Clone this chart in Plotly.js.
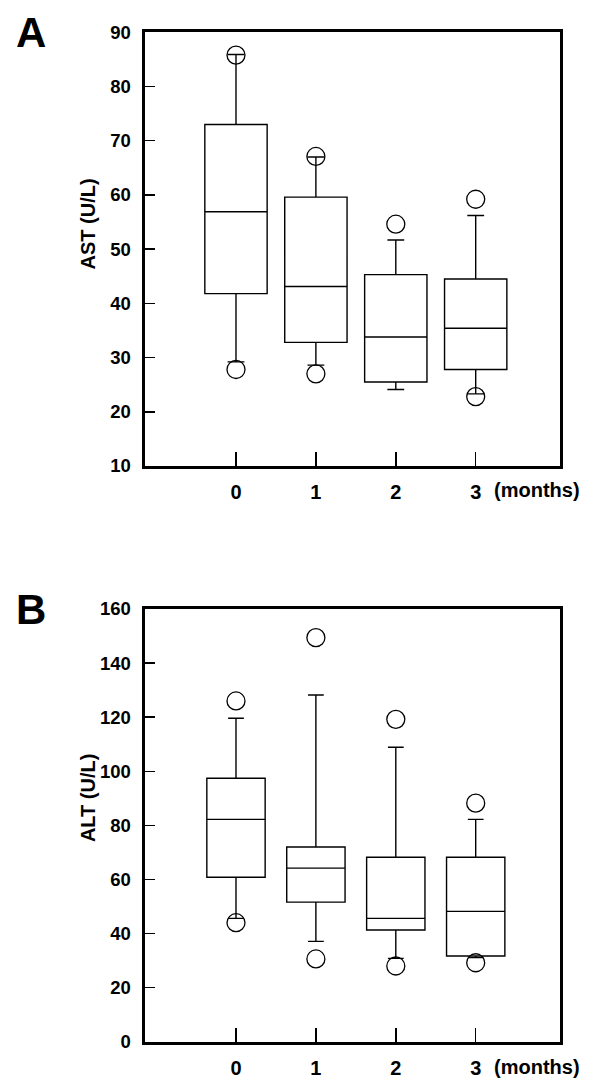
<!DOCTYPE html>
<html>
<head>
<meta charset="utf-8">
<script src="https://cdn.plot.ly/plotly-3.0.1.min.js"></script>
<style>html,body{margin:0;padding:0;background:#fff;}#chart{width:600px;height:1091px;}</style>
</head>
<body>
<div id="chart"></div>
<script>
// Categories (months)
const months = [0, 1, 2, 3];
const monthLabels = ['0', '1', '2', '3'];

// Panel A: AST (U/L)
const astQ1 = [41.8, 32.8, 25.5, 27.8];
const astMedian = [56.9, 43.1, 33.8, 35.4];
const astQ3 = [73.0, 59.6, 45.3, 44.5];
const astLowerWhisker = [29.2, 28.6, 24.1, 23.3];
const astUpperWhisker = [85.9, 67.0, 51.7, 56.2];
const astOutlierMonth = [0, 0, 1, 1, 2, 3, 3];
const astOutlierValue = [85.8, 27.8, 67.1, 27.0, 54.6, 59.2, 22.8];

// Panel B: ALT (U/L)
const altQ1 = [60.8, 51.6, 41.3, 31.7];
const altMedian = [82.2, 64.2, 45.6, 48.2];
const altQ3 = [97.4, 72.0, 68.2, 68.2];
const altLowerWhisker = [45.6, 37.1, 30.8, 31.1];
const altUpperWhisker = [119.6, 128.2, 108.9, 82.2];
const altOutlierMonth = [0, 0, 1, 1, 2, 2, 3, 3];
const altOutlierValue = [126.0, 44.0, 149.4, 30.6, 119.2, 28.0, 88.2, 29.2];

const FONT = 'Liberation Sans, Arial, Helvetica, sans-serif';

function boxTrace(q1, med, q3, lo, hi, xa, ya, w) {
  return {
    type: 'box', x: months, q1: q1, median: med, q3: q3,
    lowerfence: lo, upperfence: hi,
    xaxis: xa, yaxis: ya, width: w, whiskerwidth: 0.27,
    boxpoints: false, fillcolor: 'rgba(255,255,255,0)',
    line: {color: '#000', width: 1.4},
    hoverinfo: 'skip', showlegend: false
  };
}
function outlierTrace(xs, ys, xa, ya) {
  return {
    type: 'scatter', mode: 'markers', x: xs, y: ys, xaxis: xa, yaxis: ya,
    marker: {symbol: 'circle-open', size: 18, color: '#000', line: {width: 1.3, color: '#000'}},
    hoverinfo: 'skip', showlegend: false, cliponaxis: false
  };
}

const data = [
  boxTrace(astQ1, astMedian, astQ3, astLowerWhisker, astUpperWhisker, 'x', 'y', 0.78),
  outlierTrace(astOutlierMonth, astOutlierValue, 'x', 'y'),
  boxTrace(altQ1, altMedian, altQ3, altLowerWhisker, altUpperWhisker, 'x2', 'y2', 0.73),
  outlierTrace(altOutlierMonth, altOutlierValue, 'x2', 'y2')
];

const xDomain = [144.5 / 600, 560 / 600];
const xRange = [-1.145, 4.055];
function xAxis(anchor) {
  return {
    domain: xDomain, range: xRange, anchor: anchor, type: 'linear',
    tickmode: 'array', tickvals: months, ticktext: monthLabels,
    ticks: 'inside', ticklen: 14, tickwidth: 1.5, tickcolor: '#000',
    showline: true, linewidth: 3, linecolor: '#000', mirror: true,
    showgrid: false, zeroline: false, ticklabelstandoff: 6,
    tickfont: {family: FONT, size: 20, color: '#000', weight: 'bold'},
    fixedrange: true
  };
}
function yAxis(anchor, domain, range, dtick) {
  return {
    domain: domain, range: range, anchor: anchor,
    tickmode: 'linear', tick0: range[0], dtick: dtick,
    ticks: 'inside', ticklen: 10, tickwidth: 1.5, tickcolor: '#000',
    showline: true, linewidth: 3, linecolor: '#000', mirror: true,
    showgrid: false, zeroline: false, ticklabelstandoff: 7,
    tickfont: {family: FONT, size: 18.5, color: '#000', weight: 'bold'},
    fixedrange: true
  };
}

const H = 1091;
const annFont = {family: FONT, size: 20, color: '#000', weight: 'bold'};
const monthsFont = {family: FONT, size: 20, color: '#000', weight: 'bold'};
const layout = {
  width: 600, height: 1091,
  margin: {l: 0, r: 0, t: 0, b: 0},
  paper_bgcolor: '#fff', plot_bgcolor: '#fff',
  showlegend: false,
  xaxis: xAxis('y'),
  yaxis: yAxis('x', [1 - 466 / H, 1 - 32.3 / H], [10, 90], 10),
  xaxis2: xAxis('y2'),
  yaxis2: yAxis('x2', [1 - 1041.7 / H, 1 - 609 / H], [0, 160], 20),
  annotations: [
    {text: 'A', xref: 'paper', yref: 'paper', x: 31 / 600, y: 1 - 32 / H, xanchor: 'center', yanchor: 'middle', showarrow: false,
     font: {family: FONT, size: 42, color: '#000', weight: 'bold'}},
    {text: 'B', xref: 'paper', yref: 'paper', x: 31 / 600, y: 1 - 609 / H, xanchor: 'center', yanchor: 'middle', showarrow: false,
     font: {family: FONT, size: 42, color: '#000', weight: 'bold'}},
    {text: 'AST (U/L)', xref: 'paper', yref: 'paper', x: 87.5 / 600, y: 1 - 224 / H, textangle: -90,
     xanchor: 'center', yanchor: 'middle', showarrow: false, font: annFont},
    {text: 'ALT (U/L)', xref: 'paper', yref: 'paper', x: 87.5 / 600, y: 1 - 797.6 / H, textangle: -90,
     xanchor: 'center', yanchor: 'middle', showarrow: false, font: annFont},
    {text: '(months)', xref: 'x', yref: 'paper', x: 3, xshift: 16, y: 1 - 490 / H, xanchor: 'left', yanchor: 'middle',
     showarrow: false, font: monthsFont},
    {text: '(months)', xref: 'x2', yref: 'paper', x: 3, xshift: 16, y: 1 - 1066.7 / H, xanchor: 'left', yanchor: 'middle',
     showarrow: false, font: monthsFont}
  ]
};

Plotly.newPlot('chart', data, layout, {staticPlot: true, displayModeBar: false});
</script>
</body>
</html>
